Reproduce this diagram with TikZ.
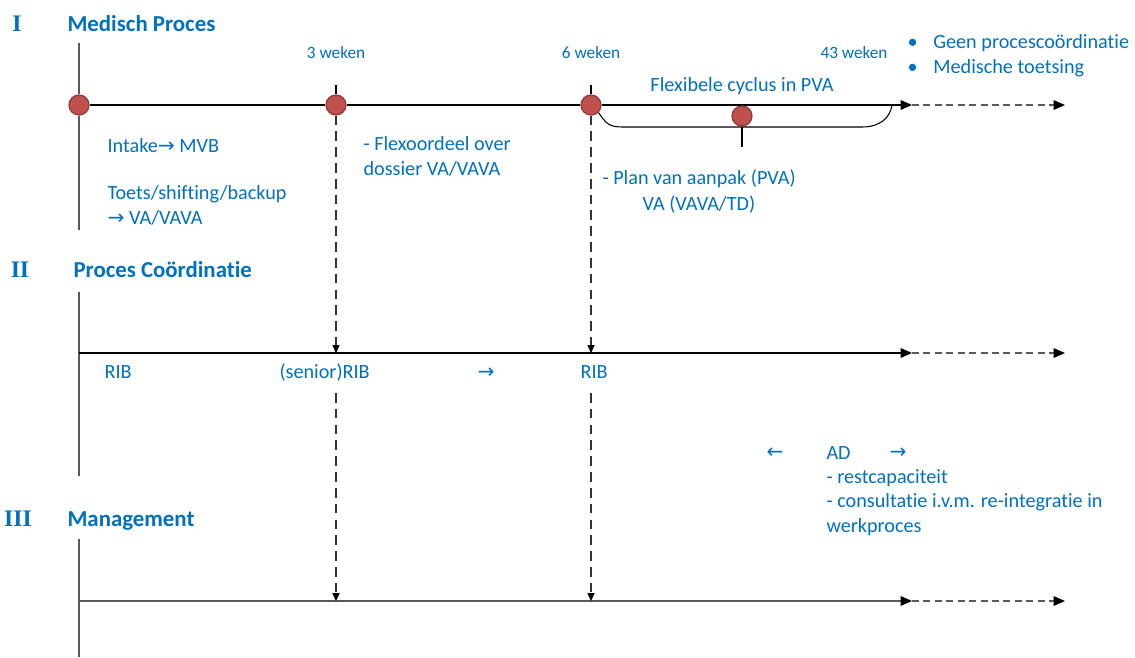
\documentclass[tikz,border=0pt]{standalone}
\usepackage{fontspec}
\setmainfont{Carlito}[Ligatures=NoCommon]
\newfontfamily\romfont{Liberation Serif}
\newfontfamily\arw{DejaVu Sans}
\usepackage{tikz}
\usetikzlibrary{positioning,arrows.meta}
\definecolor{kleur}{HTML}{0070C0}
\definecolor{rood}{HTML}{C0504D}
\definecolor{rand}{HTML}{8C3836}
\definecolor{grijs}{HTML}{595959}

\begin{document}
\begin{tikzpicture}[%
		x=0.02cm,
		y=-0.02cm,
		line width=0.6pt,
		>={Triangle[length=6.5pt,width=5.5pt,color=black]},
		punt/.style={%
			circle,
			draw=rand,
			fill=rood,
			minimum size=0.4cm,
			inner sep=0pt,
			line width=0.7pt
		},
		tekst/.style={text=kleur, font=\fontsize{11.5}{13.8}\selectfont, anchor=base west, inner sep=0pt, align=left},
		week/.style={text=kleur, font=\fontsize{9.8}{12}\selectfont, anchor=base, inner sep=0pt},
		kop/.style={text=kleur, font=\fontsize{13}{15}\selectfont\bfseries, anchor=base west, inner sep=0pt},
		nr/.style={text=kleur, font=\fontsize{13.5}{15}\selectfont\romfont\bfseries, anchor=base, inner sep=0pt},
		tijdas/.style={draw=grijs, line width=0.8pt},
		lijn/.style={draw=black, ->},
		verder/.style={draw=grijs, dash pattern=on 4pt off 2.5pt, ->},
		drop/.style={draw=black!80, dash pattern=on 5.5pt off 3.5pt, -{Triangle[length=4.5pt,width=4pt,color=black]}}
		]
		\useasboundingbox (0,0) rectangle (1135,657);

		\node[nr]  (n1) at (17,31)  {I};
		\node[kop] (h1) at (67,31)  {Medisch Proces};
		\node[nr]  (n2) at (20,277) {II};
		\node[kop] (h2) at (73,277) {Proces Coördinatie};
		\node[nr]  (n3) at (18,526) {III};
		\node[kop] (h3) at (67,526) {Management};

		\node[punt] (c1) at (79,105)  {};
		\node[punt] (c2) at (336,105) {};
		\node[punt] (c3) at (591,105) {};

		\coordinate (a1) at (79,43);  \coordinate (b1) at (79,230);
		\coordinate (a2) at (79,292); \coordinate (b2) at (79,476);
		\coordinate (a3) at (79,539); \coordinate (b3) at (79,657);
		\coordinate (s2) at (79,353); \coordinate (s3) at (79,601);
		\coordinate (e1) at (912,105); \coordinate (f1) at (1065,105);
		\coordinate (e2) at (912,353); \coordinate (f2) at (1065,353);
		\coordinate (e3) at (912,601); \coordinate (f3) at (1065,601);
		\coordinate (k2) at (336,85);  \coordinate (k3) at (591,85);
		\coordinate (p2) at (336,353); \coordinate (q2) at (336,393); \coordinate (r2) at (336,601);
		\coordinate (p3) at (591,353); \coordinate (q3) at (591,393); \coordinate (r3) at (591,601);
		\coordinate (m1) at (622,127); \coordinate (m2) at (862,127); \coordinate (m3) at (892,105);
		\coordinate (m4) at (742,147);

		\draw[tijdas] (a1) -- (c1) -- (b1);
		\draw[tijdas] (a2) -- (b2);
		\draw[tijdas] (a3) -- (b3);

		\draw[lijn] (c1) -- (c2) -- (c3) -- (e1);
		\draw[verder] (e1) -- (f1);
		\draw[lijn] (s2) -- (e2);
		\draw[verder] (e2) -- (f2);
		\draw[lijn, draw=grijs] (s3) -- (e3);
		\draw[verder] (e3) -- (f3);

		\draw (k2) -- (c2);
		\draw (k3) -- (c3);
		\draw[drop] (c2) -- (p2);
		\draw[drop] (q2) -- (r2);
		\draw[drop] (c3) -- (p3);
		\draw[drop] (q3) -- (r3);

		\draw (c3.-45) .. controls (606,124) and (610,127) .. (m1) -- (m2) .. controls (880,127) and (890,118) .. (m3);
		\node[punt] (c4) at (742,116) {};
		\draw (c4) -- (m4);

		\node[week] (w1) at (336,58) {3 weken};
		\node[week] (w2) at (591,58) {6 weken};
		\node[week] (w3) at (854,58) {43 weken};
		\node[tekst] (g1) at (907,73) {\makebox[14.7pt][l]{\textbullet}Geen procescoördinatie\\\makebox[14.7pt][l]{\textbullet}Medische toetsing};
		\node[tekst, anchor=base] (fl) at (742,91) {Flexibele cyclus in PVA};

		\node[tekst] (t1) at (107,152) {Intake{\arw →} MVB};
		\node[tekst] (t2) at (107,224) {Toets/shifting/backup\\{\arw →} VA/VAVA};
		\node[tekst] (t3) at (363,175) {- Flexoordeel over\\dossier VA/VAVA};
		\node[tekst] (t4) at (602,184) {- Plan van aanpak (PVA)};
		\node[tekst] (t5) at (642,210) {VA (VAVA/TD)};

		\node[tekst] (r1) at (104,378) {RIB};
		\node[tekst] (r2) at (279,378) {(senior)RIB};
		\node[tekst] (r3) at (477,378) {\arw →};
		\node[tekst] (r4) at (580,378) {RIB};

		\node[tekst] (l1) at (766,458) {\arw ←};
		\node[tekst] (ad) at (826,532) {AD\\- restcapaciteit\\- consultatie i.v.m. re-integratie in\\werkproces};
		\node[tekst] (l2) at (889,458) {\arw →};
		\end{tikzpicture}
\end{document}
